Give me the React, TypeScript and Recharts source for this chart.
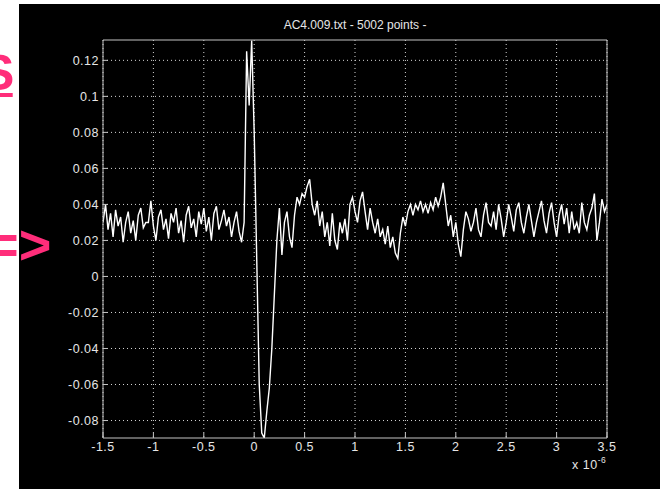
import React from "react";
import { LineChart, Line, XAxis, YAxis, CartesianGrid } from "recharts";

// Time axis (units of 1e-6 s)
const T_START = -1.5;
const T_STEP = 0.025;

// Recorded amplitude, one value per time step
const amplitude: number[] = [
  0.03, 0.04, 0.026, 0.035, 0.022, 0.037, 0.028, 0.033, 0.019, 0.03,
  0.036, 0.024, 0.031, 0.02, 0.034, 0.038, 0.027, 0.03, 0.03, 0.042,
  0.028, 0.02, 0.033, 0.037, 0.026, 0.032, 0.021, 0.035, 0.03, 0.038,
  0.024, 0.031, 0.019, 0.034, 0.039, 0.027, 0.032, 0.022, 0.036, 0.029,
  0.038, 0.025, 0.033, 0.02, 0.035, 0.039, 0.026, 0.031, 0.037, 0.028,
  0.033, 0.022, 0.03, 0.036, 0.025, 0.019, 0.03,
  // main pulse
  0.125, 0.095, 0.131, 0.08, 0.01, -0.06, -0.087, -0.0897, -0.075, -0.062,
  -0.04, -0.01, 0.02, 0.038,
  // after the pulse
  0.012, 0.03, 0.036, 0.022, 0.016, 0.034, 0.044, 0.04, 0.046, 0.044,
  0.05, 0.054, 0.04, 0.034, 0.042, 0.028, 0.036, 0.022, 0.03, 0.017,
  0.035, 0.02, 0.015, 0.03, 0.024, 0.032, 0.02, 0.04, 0.044, 0.036,
  0.03, 0.042, 0.047, 0.036, 0.026, 0.038, 0.03, 0.024, 0.032, 0.022,
  0.026, 0.018, 0.028, 0.016, 0.022, 0.013, 0.01, 0.024, 0.033, 0.028,
  0.036, 0.04, 0.034, 0.04, 0.037, 0.042, 0.036, 0.04, 0.035, 0.041,
  0.037, 0.044, 0.039, 0.044, 0.052, 0.04, 0.028, 0.034, 0.022, 0.03,
  0.018, 0.011, 0.026, 0.036, 0.032, 0.025, 0.03, 0.038, 0.026, 0.022,
  0.034, 0.041, 0.03, 0.028, 0.036, 0.026, 0.04, 0.032, 0.022, 0.03,
  0.04, 0.033, 0.025, 0.037, 0.041, 0.03, 0.024, 0.033, 0.04, 0.031,
  0.022, 0.03, 0.036, 0.042, 0.031, 0.024, 0.035, 0.041, 0.03, 0.022,
  0.034, 0.04, 0.029, 0.038, 0.024, 0.036, 0.026, 0.03, 0.024, 0.041,
  0.03, 0.026, 0.034, 0.038, 0.046, 0.02, 0.03, 0.043, 0.036, 0.04,
];

const xTicks = [-1.5, -1, -0.5, 0, 0.5, 1, 1.5, 2, 2.5, 3, 3.5];
const yTicks = [-0.08, -0.06, -0.04, -0.02, 0, 0.02, 0.04, 0.06, 0.08, 0.1, 0.12];
const xDomain: [number, number] = [-1.5, 3.5];
const yDomain: [number, number] = [-0.0897, 0.1313];

const TITLE = "AC4.009.txt - 5002 points -";

const series = amplitude.map((v, i) => ({
  t: Number((T_START + i * T_STEP).toFixed(4)),
  v,
}));

const AXIS = "#c4c4c4";
const TEXT = "#e6e6e6";
const PINK = "#ff2d7a";
const FONT = "'Liberation Sans', Arial, Helvetica, sans-serif";

const fmt = (v: number) => String(Number(v.toFixed(3)));

const tickStyle = { fill: TEXT, fontSize: 12.5, fontFamily: FONT, letterSpacing: 0.5 };

export default function App() {
  return (
    <div
      style={{
        position: "absolute",
        left: 0,
        top: 0,
        width: 660,
        height: 489,
        background: "#ffffff",
        overflow: "hidden",
      }}
    >
      <div
        style={{
          position: "absolute",
          left: 19,
          top: 4,
          width: 641,
          height: 485,
          background: "#000000",
        }}
      />
      <div style={{ position: "absolute", left: 0, top: 0 }}>
        <LineChart
          width={660}
          height={489}
          data={series}
          margin={{ top: 30, right: 43, left: 53, bottom: 21 }}
        >
          <CartesianGrid
            stroke="#d4d4d4"
            strokeDasharray="1 3"
            verticalValues={xTicks}
            horizontalValues={yTicks}
          />
          <XAxis
            dataKey="t"
            type="number"
            domain={xDomain}
            ticks={xTicks}
            allowDataOverflow
            height={30}
            tickSize={-5}
            tickMargin={9}
            tickFormatter={fmt}
            tick={tickStyle}
            axisLine={{ stroke: AXIS }}
            tickLine={{ stroke: AXIS }}
            interval={0}
          />
          <XAxis
            xAxisId="top"
            orientation="top"
            type="number"
            domain={xDomain}
            ticks={xTicks}
            allowDataOverflow
            height={10}
            tickSize={-5}
            tick={false}
            axisLine={{ stroke: AXIS }}
            tickLine={{ stroke: AXIS }}
            interval={0}
          />
          <YAxis
            type="number"
            domain={yDomain}
            ticks={yTicks}
            allowDataOverflow
            width={50}
            tickSize={-5}
            tickMargin={9}
            tickFormatter={fmt}
            tick={tickStyle}
            axisLine={{ stroke: AXIS }}
            tickLine={{ stroke: AXIS }}
            interval={0}
          />
          <YAxis
            yAxisId="right"
            orientation="right"
            type="number"
            domain={yDomain}
            ticks={yTicks}
            allowDataOverflow
            width={10}
            tickSize={-5}
            tick={false}
            axisLine={{ stroke: AXIS }}
            tickLine={{ stroke: AXIS }}
            interval={0}
          />
          <Line
            dataKey="v"
            type="linear"
            stroke="#ffffff"
            strokeWidth={1.4}
            dot={false}
            isAnimationActive={false}
          />
        </LineChart>
      </div>
      <svg
        width={660}
        height={489}
        style={{ position: "absolute", left: 0, top: 0, pointerEvents: "none" }}
      >
        <text
          x={355}
          y={28.5}
          textAnchor="middle"
          fill={TEXT}
          fontSize={12}
          fontFamily={FONT}
        >
          {TITLE}
        </text>
        <text x={572} y={469} fill={TEXT} fontSize={12.5} fontFamily={FONT} letterSpacing={0.5}>
          x 10
          <tspan fontSize={8.5} dy={-6}>-6</tspan>
        </text>
        <text x={-19} y={90} fill={PINK} fontSize={50} fontWeight="bold" fontFamily={FONT}>
          S
        </text>
        <rect x={0} y={93} width={12.7} height={4} fill={PINK} />
        <text x={-14} y={264} fill={PINK} fontSize={56} fontWeight="bold" fontFamily={FONT}>
          =&gt;
        </text>
      </svg>
    </div>
  );
}
